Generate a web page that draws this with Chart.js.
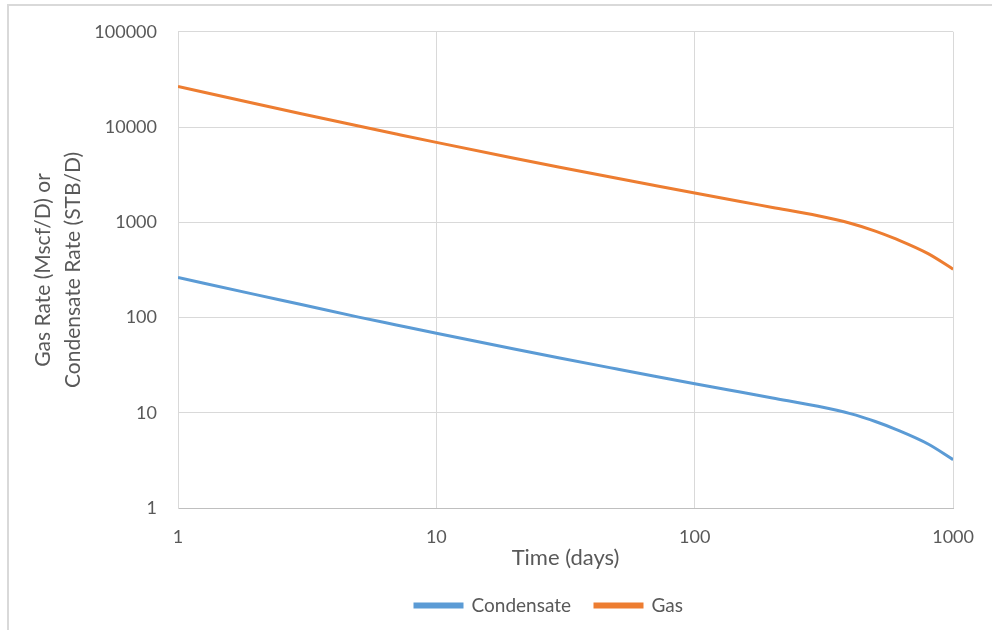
<!DOCTYPE html>
<html>
<head>
<meta charset="utf-8">
<script src="https://cdn.jsdelivr.net/npm/chart.js@4"></script>
<style>
  html, body { margin: 0; padding: 0; background: #fff; }
  #wrap { width: 992px; height: 630px; position: relative; }
</style>
</head>
<body>
<div id="wrap"><canvas id="myChart"></canvas></div>
<script>
var days = [1, 2, 3, 5, 7, 10, 20, 30, 50, 70, 100, 150, 200, 300, 400, 500, 600, 800, 1000];
var gasRate = [26600, 17560, 13810, 10240, 8445, 6900, 4710, 3787, 2893, 2431, 2025, 1651, 1432, 1170, 978, 809, 668, 468, 322];
var condensateRate = [263, 174, 137, 101, 83.5, 68.3, 46.7, 37.6, 28.8, 24.2, 20.2, 16.5, 14.3, 11.7, 9.8, 8.1, 6.7, 4.7, 3.22];
var xTicks = [1, 10, 100, 1000];
var yTicks = [1, 10, 100, 1000, 10000, 100000];

var textColor = '#595959';
var gridColor = '#d9d9d9';

function points(ys) {
  return days.map(function (d, i) { return {x: d, y: ys[i]}; });
}

Chart.defaults.font.family = 'Lato';

// light grey frame of the chart box (left + top edges visible)
var frame = {
  id: 'frame',
  beforeDraw: function (chart) {
    var c = chart.ctx;
    c.save();
    c.strokeStyle = '#d9d9d9';
    c.lineWidth = 2;
    c.beginPath();
    c.moveTo(8, 630);
    c.lineTo(8, 5);
    c.lineTo(992, 5);
    c.stroke();
    c.restore();
  }
};

// nudge the legend to the right like the original
var legendShift = {
  id: 'legendShift',
  afterLayout: function (chart) {
    chart.legend.left += 140;
  }
};

var ctx = document.getElementById('myChart').getContext('2d');
var chart = new Chart(ctx, {
  type: 'line',
  data: {
    datasets: [{
      label: 'Condensate',
      data: points(condensateRate),
      borderColor: '#5b9bd5',
      backgroundColor: '#5b9bd5',
      borderWidth: 3,
      pointRadius: 0,
      cubicInterpolationMode: 'monotone'
    }, {
      label: 'Gas',
      data: points(gasRate),
      borderColor: '#ed7d31',
      backgroundColor: '#ed7d31',
      borderWidth: 3,
      pointRadius: 0,
      cubicInterpolationMode: 'monotone'
    }]
  },
  options: {
    responsive: true,
    maintainAspectRatio: false,
    animation: false,
    layout: {
      padding: {top: 26, right: 34, bottom: 5, left: 0}
    },
    plugins: {
      tooltip: {enabled: false},
      legend: {
        position: 'bottom',
        labels: {
          boxWidth: 47,
          boxHeight: 3,
          padding: 24,
          color: textColor,
          font: {size: 19}
        }
      }
    },
    scales: {
      x: {
        type: 'logarithmic',
        min: 1,
        max: 1000,
        afterBuildTicks: function (s) {
          s.ticks = xTicks.map(function (v) { return {value: v}; });
        },
        afterFit: function (s) { s.height = 64; },
        ticks: {
          color: textColor,
          font: {size: 18},
          padding: 18,
          maxRotation: 0,
          callback: function (v) { return String(v); }
        },
        grid: {color: gridColor, drawTicks: false},
        border: {color: '#bfbfbf'},
        title: {
          display: true,
          text: 'Time (days)',
          color: textColor,
          font: {size: 22},
          padding: {top: 0, bottom: 1}
        }
      },
      y: {
        type: 'logarithmic',
        min: 1,
        max: 100000,
        afterBuildTicks: function (s) {
          s.ticks = yTicks.map(function (v) { return {value: v}; });
        },
        afterFit: function (s) { s.width = 178; },
        ticks: {
          color: textColor,
          font: {size: 18},
          padding: 21,
          callback: function (v) { return String(v); }
        },
        grid: {color: gridColor, drawTicks: false},
        border: {color: gridColor},
        title: {
          display: true,
          text: ['Gas Rate (Mscf/D) or', 'Condensate Rate (STB/D)'],
          color: textColor,
          font: {size: 21, lineHeight: 1.4},
          padding: {top: 29, bottom: 0}
        }
      }
    }
  },
  plugins: [frame, legendShift]
});
</script>
</body>
</html>
